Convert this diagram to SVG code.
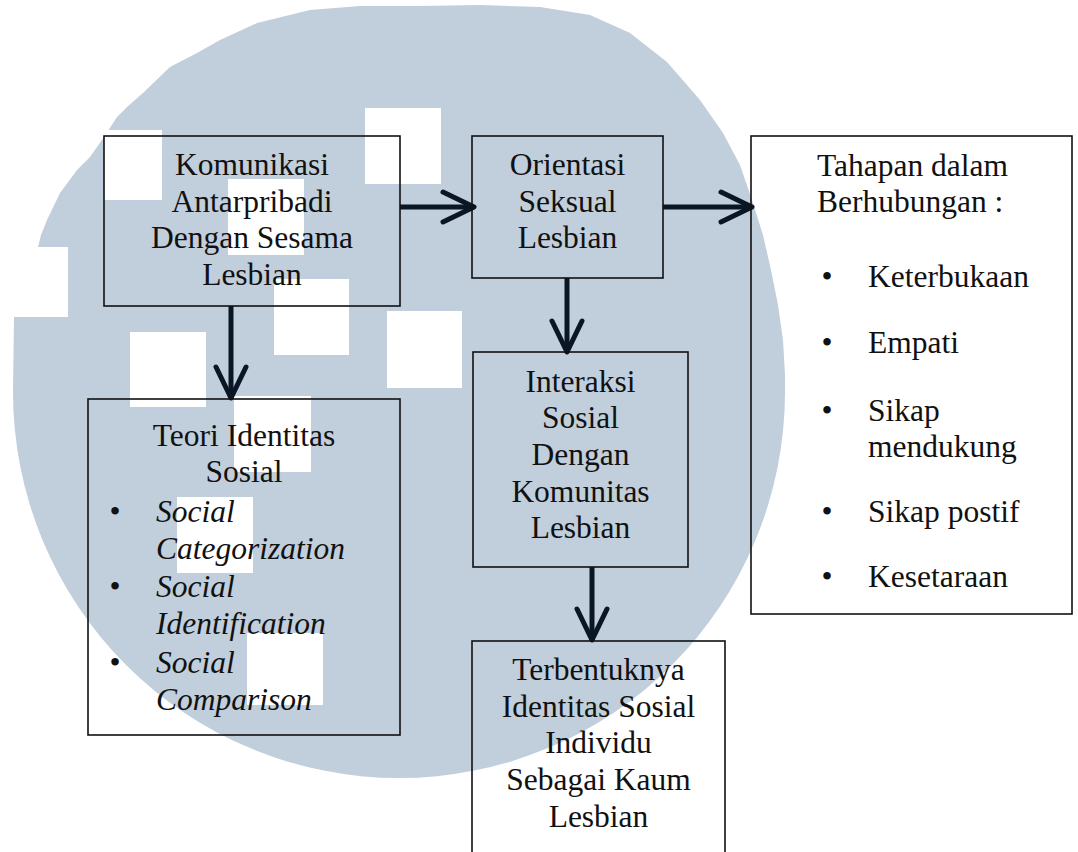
<svg xmlns="http://www.w3.org/2000/svg" width="1078" height="852" viewBox="0 0 1078 852">
<style>
.t{font-family:'Liberation Serif','Times New Roman','DejaVu Serif',serif;font-size:31.5px;fill:#111}
.c{text-anchor:middle}
.i{font-style:italic}
.box{fill:none;stroke:#111;stroke-width:1.6}
.ln{fill:none;stroke:#0b1624;stroke-width:5}
.sq{fill:#fff}
</style>
<defs>
<marker id="chev" markerUnits="userSpaceOnUse" viewBox="-36 -20 40 40" refX="0" refY="0" markerWidth="40" markerHeight="40" orient="auto" overflow="visible">
<path d="M-31,-15 L0,0 L-31,15" fill="none" stroke="#0b1624" stroke-width="5" stroke-linecap="round" stroke-linejoin="round"/>
</marker>
</defs>
<rect width="1078" height="852" fill="#fff"/>
<g id="watermark">
<path fill="#c1cedb" d="M420,6 L480,5 L540,7 L590,15 L630,33 L667,62 L700,100 L723,133 L740,165 L752,200 L763,235 L771,270 L778,305 L783,340 L785,375 L785,392 A386,386 0 0 1 13,392 L14,317 L68,317 L68,247 L38,247 L41,235 L47,220 L60,193 L77,170 L90,157 L104,137 L117,117 L127,107 L143,93 L170,67 L197,53 L220,40 L257,23 L310,10 L360,6 Z"/>
<rect class="sq" x="365" y="108" width="76" height="76"/>
<rect class="sq" x="228" y="179" width="76" height="76"/>
<rect class="sq" x="274" y="279" width="75" height="76"/>
<rect class="sq" x="387" y="311" width="75" height="77"/>
<rect class="sq" x="130" y="332" width="76" height="75"/>
<rect class="sq" x="234" y="396" width="77" height="76"/>
<rect class="sq" x="177" y="497" width="76" height="76"/>
<rect class="sq" x="247" y="633" width="76" height="72"/>
<rect class="sq" x="104" y="130" width="58" height="70"/>
</g>
<g id="connectors">
<path class="ln" d="M400,207 H474" marker-end="url(#chev)"/>
<path class="ln" d="M663,207 H752" marker-end="url(#chev)"/>
<path class="ln" d="M231,306 V398" marker-end="url(#chev)"/>
<path class="ln" d="M567,278 V352" marker-end="url(#chev)"/>
<path class="ln" d="M592,567 V640" marker-end="url(#chev)"/>
</g>
<g id="komunikasi">
<rect class="box" x="104" y="136" width="296" height="170"/>
<text class="t c" x="252" y="175">Komunikasi</text>
<text class="t c" x="252" y="212">Antarpribadi</text>
<text class="t c" x="252" y="248">Dengan Sesama</text>
<text class="t c" x="252" y="285">Lesbian</text>
</g>
<g id="orientasi">
<rect class="box" x="472" y="136" width="191" height="142"/>
<text class="t c" x="567.5" y="175">Orientasi</text>
<text class="t c" x="567.5" y="212">Seksual</text>
<text class="t c" x="567.5" y="248">Lesbian</text>
</g>
<g id="tahapan">
<rect class="box" x="751" y="136" width="321" height="478"/>
<text class="t" x="817" y="176">Tahapan dalam</text>
<text class="t" x="817" y="212">Berhubungan :</text>
<text class="t c" x="827" y="287">•</text>
<text class="t" x="868" y="287">Keterbukaan</text>
<text class="t c" x="827" y="353">•</text>
<text class="t" x="868" y="353">Empati</text>
<text class="t c" x="827" y="421">•</text>
<text class="t" x="868" y="421">Sikap</text>
<text class="t" x="868" y="457">mendukung</text>
<text class="t c" x="827" y="522">•</text>
<text class="t" x="868" y="522">Sikap postif</text>
<text class="t c" x="827" y="587">•</text>
<text class="t" x="868" y="587">Kesetaraan</text>
</g>
<g id="teori">
<rect class="box" x="88" y="399" width="312" height="336"/>
<text class="t c" x="244" y="446">Teori Identitas</text>
<text class="t c" x="244" y="482">Sosial</text>
<text class="t c" x="115" y="522">•</text>
<text class="t i" x="156" y="522">Social</text>
<text class="t i" x="156" y="559">Categorization</text>
<text class="t c" x="115" y="597">•</text>
<text class="t i" x="156" y="597">Social</text>
<text class="t i" x="156" y="634">Identification</text>
<text class="t c" x="115" y="673">•</text>
<text class="t i" x="156" y="673">Social</text>
<text class="t i" x="156" y="710">Comparison</text>
</g>
<g id="interaksi">
<rect class="box" x="473" y="352" width="215" height="215"/>
<text class="t c" x="580.5" y="392">Interaksi</text>
<text class="t c" x="580.5" y="428">Sosial</text>
<text class="t c" x="580.5" y="465">Dengan</text>
<text class="t c" x="580.5" y="502">Komunitas</text>
<text class="t c" x="580.5" y="538">Lesbian</text>
</g>
<g id="terbentuknya">
<rect class="box" x="472" y="641" width="253" height="230"/>
<text class="t c" x="598.5" y="680">Terbentuknya</text>
<text class="t c" x="598.5" y="717">Identitas Sosial</text>
<text class="t c" x="598.5" y="753">Individu</text>
<text class="t c" x="598.5" y="790">Sebagai Kaum</text>
<text class="t c" x="598.5" y="827">Lesbian</text>
</g>
</svg>
